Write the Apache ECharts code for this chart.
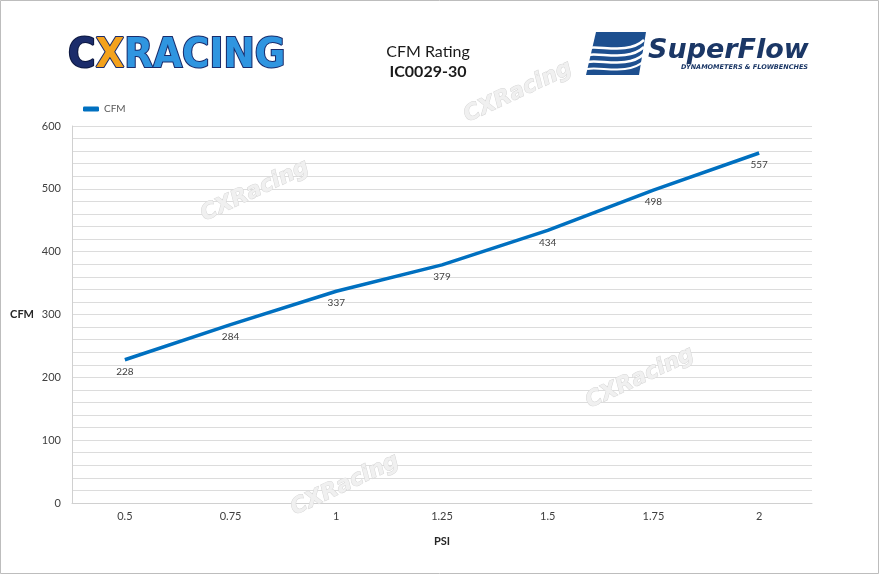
<!DOCTYPE html>
<html><head><meta charset="utf-8">
<script src="https://cdn.jsdelivr.net/npm/echarts@6/dist/echarts.min.js"></script>
<style>html,body{margin:0;padding:0;background:#fff}#c{width:880px;height:575px}</style>
</head><body><div id="c"></div>
<script>
const categories = ['0.5','0.75','1','1.25','1.5','1.75','2'];
const cfmValues = [228, 284, 337, 379, 434, 498, 557];
const seriesName = 'CFM';
const titleLine1 = 'CFM Rating';
const titleLine2 = 'IC0029-30';
const xName = 'PSI';
const yName = 'CFM';

const chart = echarts.init(document.getElementById('c'));
const font = 'Lato, "Open Sans", sans-serif';
function watermark(x, y) {
  return {type:'text', x:x, y:y, rotation:0.44, z:1,
    style:{text:'CXRacing', font:'italic bold 22px "DejaVu Sans", sans-serif', fill:'#f0f0f0', stroke:'#d6d6d6', lineWidth:1, align:'center', verticalAlign:'middle'}};
}
function wave(y0, w) {
  return {type:'bezierCurve', shape:{x1:587, y1:y0 + 2, cpx1:600, cpy1:y0 - 1, cpx2:628, cpy2:y0 + 9, x2:644, y2:y0 - 6},
    style:{stroke:'#fff', lineWidth:w, fill:'none'}, z:2};
}
const logoFont = 'bold 40px "DejaVu Sans Condensed","DejaVu Sans",sans-serif';
chart.setOption({
  animation:false,
  backgroundColor:'#fff',
  textStyle:{fontFamily:font},
  legend:{left:78, top:99, itemWidth:16, itemHeight:5, icon:'roundRect', itemGap:4,
    textStyle:{fontSize:10, color:'#595959', fontFamily:font}, data:[seriesName]},
  grid:{left:72, right:68, top:126, bottom:72, containLabel:false},
  xAxis:{type:'category', data:categories, boundaryGap:true,
    name:xName, nameLocation:'middle', nameGap:33,
    nameTextStyle:{fontWeight:'bold', fontSize:11, color:'#262626'},
    axisLine:{lineStyle:{color:'#d0d0d0'}}, axisTick:{show:false},
    axisLabel:{color:'#404040', fontSize:11, margin:8}},
  yAxis:{type:'value', min:0, max:600, interval:20,
    name:yName, nameLocation:'middle', nameGap:38, nameRotate:0,
    nameTextStyle:{fontWeight:'bold', fontSize:11, color:'#262626'},
    axisLine:{show:true, lineStyle:{color:'#d0d0d0'}}, axisTick:{show:false},
    axisLabel:{color:'#404040', fontSize:11, margin:11, formatter:v => (v % 100 === 0 ? String(v) : '')},
    splitLine:{lineStyle:{color:'#dcdcdc', width:1}}},
  series:[{name:seriesName, type:'line', data:cfmValues, symbol:'circle', symbolSize:0, z:3,
    lineStyle:{color:'#0070C0', width:3.5}, itemStyle:{color:'#0070C0'},
    label:{show:true, position:'bottom', distance:7, fontSize:10, color:'#404040', fontFamily:font}}],
  graphic:[
    {type:'rect', shape:{x:0.5, y:0.5, width:878, height:573}, style:{fill:'none', stroke:'#bdbdbd', lineWidth:1}, z:0},
    {type:'text', x:428, y:52, style:{text:titleLine1, font:'16px ' + font, fill:'#1a1a1a', align:'center', verticalAlign:'middle'}},
    {type:'text', x:428, y:72, style:{text:titleLine2, font:'bold 16px ' + font, fill:'#1a1a1a', align:'center', verticalAlign:'middle'}},
    {type:'text', x:68, y:57, scaleX:1.04, style:{
      text:'{c|C}{x|X}{r|RACING}', verticalAlign:'middle', align:'left',
      rich:{
        c:{font:logoFont, fill:'#1b2c6b', stroke:'#0d1840', lineWidth:2},
        x:{font:logoFont, fill:'#f4a21c', stroke:'#1b2c6b', lineWidth:2},
        r:{font:logoFont, fill:'#2f95e0', stroke:'#1b2c6b', lineWidth:2}
      }}},
    {type:'polygon', shape:{points:[[596,32],[646,32],[639,75],[586,75]]}, style:{fill:'#1d4f8f'}, z:1},
    wave(46, 2.5), wave(53, 2.5), wave(60, 2.5), wave(67, 2),
    {type:'text', x:648, y:51, style:{text:'SuperFlow', font:'italic bold 27px "DejaVu Sans", sans-serif', fill:'#1b3766', align:'left', verticalAlign:'middle'}},
    {type:'text', x:808, y:67, style:{text:'DYNAMOMETERS & FLOWBENCHES', font:'italic bold 6.5px "DejaVu Sans", sans-serif', fill:'#1b3766', align:'right', verticalAlign:'middle'}},
    watermark(518, 92), watermark(255, 191), watermark(640, 378), watermark(345, 485)
  ]
});
</script></body></html>
